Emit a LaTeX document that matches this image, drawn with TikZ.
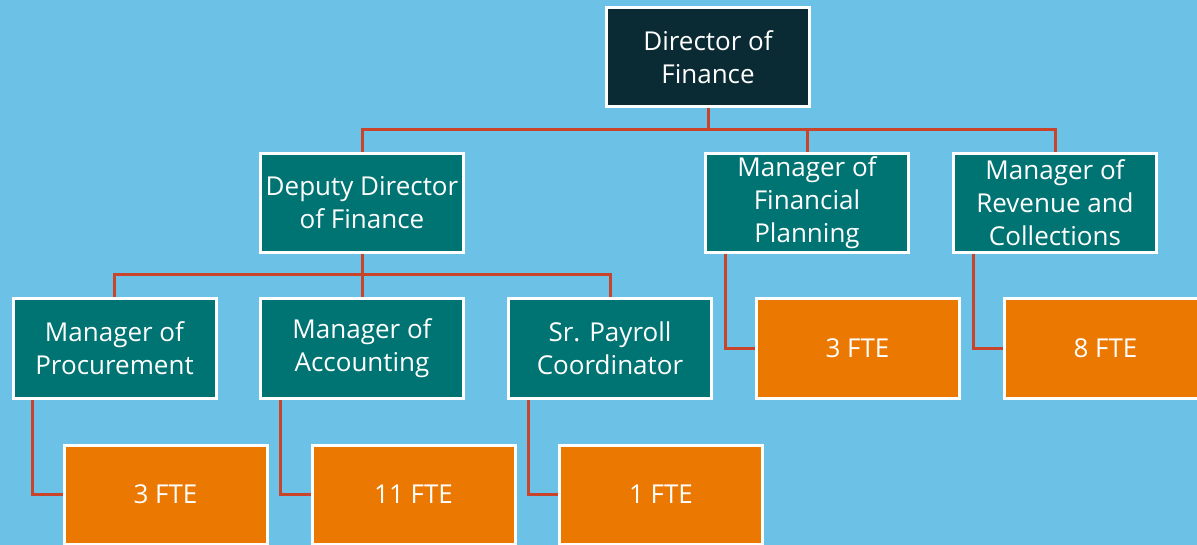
\documentclass[tikz,border=0pt]{standalone}
\usepackage{fontspec}
\setmainfont{Open Sans}
\definecolor{bgblue}{HTML}{6BC1E6}
\definecolor{darkbox}{HTML}{0A2B33}
\definecolor{tealbox}{HTML}{007373}
\definecolor{orangebox}{HTML}{EB7800}
\definecolor{linkred}{HTML}{C8452C}
\tikzset{
  orgbox/.style={draw=white, line width=3pt, minimum width=203pt, minimum height=99pt,
    text=white, align=center, inner sep=1pt, font=\fontsize{26}{33}\selectfont},
  topbox/.style={orgbox, fill=darkbox},
  midbox/.style={orgbox, fill=tealbox},
  ftebox/.style={orgbox, fill=orangebox},
  link/.style={draw=linkred, line width=3pt}
}
\begin{document}
\begin{tikzpicture}[x=1pt,y=-1pt]
\useasboundingbox (0,0) rectangle (1197,545);
\fill[bgblue] (0,0) rectangle (1197,545);
\clip (0,0) rectangle (1197,545);
% top
\node[topbox] (dir) at (708,57.5) {Director of\\Finance};
% level 2
\node[midbox] (dep) at (362,203) {Deputy Director\\of Finance};
\node[midbox] (mfp) at (807,203) {Manager of\\Financial\\Planning};
\node[midbox] (mrc) at (1055,203) {Manager of\\Revenue and\\Collections};
% level 3
\node[midbox] (proc) at (114.5,348.5) {Manager of\\Procurement};
\node[midbox] (acc) at (362,348.5) {Manager of\\Accounting};
\node[midbox] (pay) at (610,348.5) {Sr. Payroll\\Coordinator};
\node[ftebox] (fteA) at (857.5,348.5) {3 FTE};
\node[ftebox] (fteB) at (1105.5,348.5) {8 FTE};
% level 4
\node[ftebox] (fteC) at (165.5,494.5) {3 FTE};
\node[ftebox] (fteD) at (413.5,494.5) {11 FTE};
\node[ftebox] (fteE) at (661,494.5) {1 FTE};
% connectors
\draw[link] (dir.south) -- (708,130) coordinate (busA);
\draw[link] (busA) -| (dep.north);
\draw[link] (busA) -| (mfp.north);
\draw[link] (busA) -| (mrc.north);
\draw[link] (dep.south) -- (362,275) coordinate (busB);
\draw[link] (busB) -| (proc.north);
\draw[link] (busB) -| (acc.north);
\draw[link] (busB) -| (pay.north);
\draw[link] ([xshift=21pt]proc.south west) |- (fteC.west);
\draw[link] ([xshift=21pt]acc.south west) |- (fteD.west);
\draw[link] ([xshift=21pt]pay.south west) |- (fteE.west);
\draw[link] ([xshift=21pt]mfp.south west) |- (fteA.west);
\draw[link] ([xshift=21pt]mrc.south west) |- (fteB.west);
\end{tikzpicture}
\end{document}
